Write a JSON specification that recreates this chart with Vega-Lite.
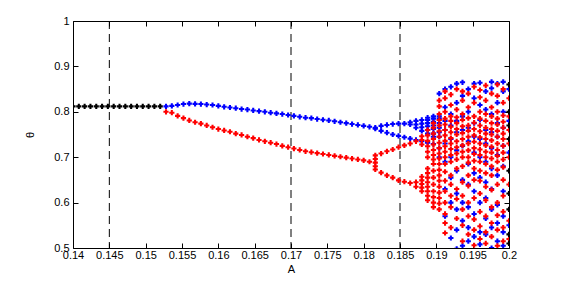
{
"$schema": "https://vega.github.io/schema/vega-lite/v6.json",
"width": 436, "height": 227,
"autosize": "none",
"padding": {"left": 73, "top": 21, "right": 52, "bottom": 38},
"background": "white",
"config": {
  "view": {"stroke": "#000", "strokeWidth": 1},
  "font": "Liberation Sans",
  "axis": {"grid": false, "domain": false, "tickColor": "#000", "labelColor": "#000", "titleColor": "#000", "labelFontSize": 11, "titleFontSize": 11, "titleFontWeight": "normal", "tickSize": -5, "labelFlush": false, "labelOverlap": false}
},
"datasets": {
"pts": [
{"A":0.14,"t":0.812,"s":"k"},{"A":0.1408,"t":0.812,"s":"k"},{"A":0.1416,"t":0.812,"s":"k"},{"A":0.1424,"t":0.812,"s":"k"},
{"A":0.1432,"t":0.812,"s":"k"},{"A":0.144,"t":0.812,"s":"k"},{"A":0.1448,"t":0.812,"s":"k"},{"A":0.1456,"t":0.812,"s":"k"},
{"A":0.1464,"t":0.812,"s":"k"},{"A":0.1472,"t":0.812,"s":"k"},{"A":0.148,"t":0.812,"s":"k"},{"A":0.1488,"t":0.812,"s":"k"},
{"A":0.1496,"t":0.812,"s":"k"},{"A":0.1504,"t":0.812,"s":"k"},{"A":0.1512,"t":0.812,"s":"k"},{"A":0.152,"t":0.812,"s":"k"},
{"A":0.1528,"t":0.812,"s":"b"},{"A":0.1528,"t":0.800,"s":"r"},
{"A":0.1536,"t":0.813,"s":"b"},{"A":0.1536,"t":0.798,"s":"r"},
{"A":0.1544,"t":0.815,"s":"b"},{"A":0.1544,"t":0.791,"s":"r"},
{"A":0.1552,"t":0.817,"s":"b"},{"A":0.1552,"t":0.786,"s":"r"},
{"A":0.156,"t":0.818,"s":"b"},{"A":0.156,"t":0.781,"s":"r"},
{"A":0.1568,"t":0.8175,"s":"b"},{"A":0.1568,"t":0.777,"s":"r"},
{"A":0.1576,"t":0.817,"s":"b"},{"A":0.1576,"t":0.774,"s":"r"},
{"A":0.1584,"t":0.816,"s":"b"},{"A":0.1584,"t":0.770,"s":"r"},
{"A":0.1592,"t":0.815,"s":"b"},{"A":0.1592,"t":0.766,"s":"r"},
{"A":0.16,"t":0.813,"s":"b"},{"A":0.16,"t":0.762,"s":"r"},
{"A":0.1608,"t":0.811,"s":"b"},{"A":0.1608,"t":0.759,"s":"r"},
{"A":0.1616,"t":0.8095,"s":"b"},{"A":0.1616,"t":0.756,"s":"r"},
{"A":0.1624,"t":0.808,"s":"b"},{"A":0.1624,"t":0.752,"s":"r"},
{"A":0.1632,"t":0.806,"s":"b"},{"A":0.1632,"t":0.749,"s":"r"},
{"A":0.164,"t":0.805,"s":"b"},{"A":0.164,"t":0.745,"s":"r"},
{"A":0.1648,"t":0.803,"s":"b"},{"A":0.1648,"t":0.742,"s":"r"},
{"A":0.1656,"t":0.8015,"s":"b"},{"A":0.1656,"t":0.738,"s":"r"},
{"A":0.1664,"t":0.800,"s":"b"},{"A":0.1664,"t":0.735,"s":"r"},
{"A":0.1672,"t":0.798,"s":"b"},{"A":0.1672,"t":0.732,"s":"r"},
{"A":0.168,"t":0.7965,"s":"b"},{"A":0.168,"t":0.729,"s":"r"},
{"A":0.1688,"t":0.795,"s":"b"},{"A":0.1688,"t":0.725,"s":"r"},
{"A":0.1696,"t":0.793,"s":"b"},{"A":0.1696,"t":0.722,"s":"r"},
{"A":0.1704,"t":0.791,"s":"b"},{"A":0.1704,"t":0.719,"s":"r"},
{"A":0.1712,"t":0.789,"s":"b"},{"A":0.1712,"t":0.716,"s":"r"},
{"A":0.172,"t":0.787,"s":"b"},{"A":0.172,"t":0.713,"s":"r"},
{"A":0.1728,"t":0.786,"s":"b"},{"A":0.1728,"t":0.711,"s":"r"},
{"A":0.1736,"t":0.784,"s":"b"},{"A":0.1736,"t":0.709,"s":"r"},
{"A":0.1744,"t":0.7825,"s":"b"},{"A":0.1744,"t":0.707,"s":"r"},
{"A":0.1752,"t":0.781,"s":"b"},{"A":0.1752,"t":0.705,"s":"r"},
{"A":0.176,"t":0.779,"s":"b"},{"A":0.176,"t":0.703,"s":"r"},
{"A":0.1768,"t":0.777,"s":"b"},{"A":0.1768,"t":0.701,"s":"r"},
{"A":0.1776,"t":0.775,"s":"b"},{"A":0.1776,"t":0.699,"s":"r"},
{"A":0.1784,"t":0.773,"s":"b"},{"A":0.1784,"t":0.697,"s":"r"},
{"A":0.1792,"t":0.771,"s":"b"},{"A":0.1792,"t":0.695,"s":"r"},
{"A":0.18,"t":0.769,"s":"b"},{"A":0.18,"t":0.693,"s":"r"},
{"A":0.1808,"t":0.767,"s":"b"},{"A":0.1808,"t":0.690,"s":"r"},
{"A":0.1816,"t":0.765,"s":"b"},{"A":0.1816,"t":0.763,"s":"b"},
{"A":0.1816,"t":0.673,"s":"r"},{"A":0.1816,"t":0.680,"s":"r"},{"A":0.1816,"t":0.688,"s":"r"},{"A":0.1816,"t":0.696,"s":"r"},{"A":0.1816,"t":0.704,"s":"r"},
{"A":0.1824,"t":0.769,"s":"b"},{"A":0.1824,"t":0.758,"s":"b"},{"A":0.1824,"t":0.708,"s":"r"},{"A":0.1824,"t":0.666,"s":"r"},
{"A":0.1832,"t":0.771,"s":"b"},{"A":0.1832,"t":0.754,"s":"b"},{"A":0.1832,"t":0.713,"s":"r"},{"A":0.1832,"t":0.660,"s":"r"},
{"A":0.184,"t":0.773,"s":"b"},{"A":0.184,"t":0.750,"s":"b"},{"A":0.184,"t":0.717,"s":"r"},{"A":0.184,"t":0.655,"s":"r"},
{"A":0.1848,"t":0.774,"s":"b"},{"A":0.1848,"t":0.747,"s":"b"},{"A":0.1848,"t":0.722,"s":"r"},{"A":0.1848,"t":0.649,"s":"r"},
{"A":0.1856,"t":0.774,"s":"b"},{"A":0.1856,"t":0.744,"s":"b"},{"A":0.1856,"t":0.726,"s":"r"},{"A":0.1856,"t":0.646,"s":"r"},
{"A":0.1864,"t":0.772,"s":"b"},{"A":0.1864,"t":0.777,"s":"b"},{"A":0.1864,"t":0.741,"s":"b"},{"A":0.1864,"t":0.730,"s":"r"},{"A":0.1864,"t":0.643,"s":"r"},
{"A":0.1872,"t":0.765,"s":"b"},{"A":0.1872,"t":0.772,"s":"b"},{"A":0.1872,"t":0.780,"s":"b"},{"A":0.1872,"t":0.738,"s":"b"},
{"A":0.1872,"t":0.735,"s":"r"},{"A":0.1872,"t":0.635,"s":"r"},{"A":0.1872,"t":0.645,"s":"r"},
{"A":0.188,"t":0.758,"s":"b"},{"A":0.188,"t":0.766,"s":"b"},{"A":0.188,"t":0.774,"s":"b"},{"A":0.188,"t":0.782,"s":"b"},{"A":0.188,"t":0.735,"s":"b"},
{"A":0.188,"t":0.728,"s":"r"},{"A":0.188,"t":0.738,"s":"r"},{"A":0.188,"t":0.746,"s":"r"},
{"A":0.188,"t":0.625,"s":"r"},{"A":0.188,"t":0.633,"s":"r"},{"A":0.188,"t":0.641,"s":"r"},{"A":0.188,"t":0.649,"s":"r"},{"A":0.188,"t":0.657,"s":"r"},
{"A":0.1888,"t":0.752,"s":"b"},{"A":0.1888,"t":0.760,"s":"b"},{"A":0.1888,"t":0.768,"s":"b"},{"A":0.1888,"t":0.775,"s":"b"},{"A":0.1888,"t":0.782,"s":"b"},{"A":0.1888,"t":0.787,"s":"b"},{"A":0.1888,"t":0.732,"s":"b"},
{"A":0.1888,"t":0.700,"s":"r"},{"A":0.1888,"t":0.712,"s":"r"},{"A":0.1888,"t":0.724,"s":"r"},{"A":0.1888,"t":0.736,"s":"r"},{"A":0.1888,"t":0.748,"s":"r"},{"A":0.1888,"t":0.760,"s":"r"},
{"A":0.1888,"t":0.605,"s":"r"},{"A":0.1888,"t":0.615,"s":"r"},{"A":0.1888,"t":0.625,"s":"r"},{"A":0.1888,"t":0.635,"s":"r"},{"A":0.1888,"t":0.645,"s":"r"},{"A":0.1888,"t":0.655,"s":"r"},{"A":0.1888,"t":0.665,"s":"r"},{"A":0.1888,"t":0.675,"s":"r"},
{"A":0.1896,"t":0.745,"s":"b"},{"A":0.1896,"t":0.752,"s":"b"},{"A":0.1896,"t":0.762,"s":"b"},{"A":0.1896,"t":0.770,"s":"b"},{"A":0.1896,"t":0.778,"s":"b"},{"A":0.1896,"t":0.785,"s":"b"},{"A":0.1896,"t":0.790,"s":"b"},{"A":0.1896,"t":0.729,"s":"b"},
{"A":0.1896,"t":0.590,"s":"r"},{"A":0.1896,"t":0.600,"s":"r"},{"A":0.1896,"t":0.612,"s":"r"},{"A":0.1896,"t":0.625,"s":"r"},{"A":0.1896,"t":0.640,"s":"r"},{"A":0.1896,"t":0.655,"s":"r"},{"A":0.1896,"t":0.670,"s":"r"},{"A":0.1896,"t":0.685,"s":"r"},{"A":0.1896,"t":0.695,"s":"r"},
{"A":0.1896,"t":0.705,"s":"r"},{"A":0.1896,"t":0.716,"s":"r"},{"A":0.1896,"t":0.728,"s":"r"},{"A":0.1896,"t":0.740,"s":"r"},{"A":0.1896,"t":0.752,"s":"r"},{"A":0.1896,"t":0.765,"s":"r"},{"A":0.1896,"t":0.775,"s":"r"},
{"A":0.1904,"t":0.720,"s":"b"},{"A":0.1904,"t":0.745,"s":"b"},{"A":0.1904,"t":0.755,"s":"b"},{"A":0.1904,"t":0.765,"s":"b"},{"A":0.1904,"t":0.775,"s":"b"},{"A":0.1904,"t":0.785,"s":"b"},{"A":0.1904,"t":0.790,"s":"b"},{"A":0.1904,"t":0.700,"s":"b"},{"A":0.1904,"t":0.840,"s":"b"},
{"A":0.1904,"t":0.585,"s":"r"},{"A":0.1904,"t":0.598,"s":"r"},{"A":0.1904,"t":0.610,"s":"r"},{"A":0.1904,"t":0.622,"s":"r"},{"A":0.1904,"t":0.635,"s":"r"},{"A":0.1904,"t":0.648,"s":"r"},{"A":0.1904,"t":0.660,"s":"r"},{"A":0.1904,"t":0.672,"s":"r"},{"A":0.1904,"t":0.685,"s":"r"},{"A":0.1904,"t":0.697,"s":"r"},
{"A":0.1904,"t":0.708,"s":"r"},{"A":0.1904,"t":0.720,"s":"r"},{"A":0.1904,"t":0.732,"s":"r"},{"A":0.1904,"t":0.745,"s":"r"},{"A":0.1904,"t":0.757,"s":"r"},{"A":0.1904,"t":0.770,"s":"r"},{"A":0.1904,"t":0.782,"s":"r"},{"A":0.1904,"t":0.795,"s":"r"},{"A":0.1904,"t":0.812,"s":"r"},{"A":0.1904,"t":0.825,"s":"r"},
{"A":0.1912,"t":0.57,"s":"b"},{"A":0.1912,"t":0.63,"s":"b"},{"A":0.1912,"t":0.69,"s":"b"},{"A":0.1912,"t":0.73,"s":"b"},{"A":0.1912,"t":0.76,"s":"b"},{"A":0.1912,"t":0.78,"s":"b"},{"A":0.1912,"t":0.81,"s":"b"},{"A":0.1912,"t":0.85,"s":"b"},
{"A":0.1912,"t":0.533,"s":"r"},{"A":0.1912,"t":0.555,"s":"r"},{"A":0.1912,"t":0.575,"s":"r"},{"A":0.1912,"t":0.60,"s":"r"},{"A":0.1912,"t":0.625,"s":"r"},{"A":0.1912,"t":0.648,"s":"r"},{"A":0.1912,"t":0.668,"s":"r"},{"A":0.1912,"t":0.685,"s":"r"},{"A":0.1912,"t":0.70,"s":"r"},{"A":0.1912,"t":0.712,"s":"r"},
{"A":0.1912,"t":0.724,"s":"r"},{"A":0.1912,"t":0.736,"s":"r"},{"A":0.1912,"t":0.748,"s":"r"},{"A":0.1912,"t":0.76,"s":"r"},{"A":0.1912,"t":0.772,"s":"r"},{"A":0.1912,"t":0.785,"s":"r"},{"A":0.1912,"t":0.80,"s":"r"},{"A":0.1912,"t":0.83,"s":"r"},{"A":0.1912,"t":0.845,"s":"r"},
{"A":0.192,"t":0.522,"s":"b"},{"A":0.192,"t":0.60,"s":"b"},{"A":0.192,"t":0.655,"s":"b"},{"A":0.192,"t":0.70,"s":"b"},{"A":0.192,"t":0.74,"s":"b"},{"A":0.192,"t":0.77,"s":"b"},{"A":0.192,"t":0.795,"s":"b"},{"A":0.192,"t":0.855,"s":"b"},
{"A":0.192,"t":0.545,"s":"r"},{"A":0.192,"t":0.59,"s":"r"},{"A":0.192,"t":0.615,"s":"r"},{"A":0.192,"t":0.64,"s":"r"},{"A":0.192,"t":0.66,"s":"r"},{"A":0.192,"t":0.69,"s":"r"},{"A":0.192,"t":0.705,"s":"r"},{"A":0.192,"t":0.718,"s":"r"},
{"A":0.192,"t":0.73,"s":"r"},{"A":0.192,"t":0.742,"s":"r"},{"A":0.192,"t":0.755,"s":"r"},{"A":0.192,"t":0.767,"s":"r"},{"A":0.192,"t":0.78,"s":"r"},{"A":0.192,"t":0.79,"s":"r"},{"A":0.192,"t":0.815,"s":"r"},{"A":0.192,"t":0.838,"s":"r"},
{"A":0.1928,"t":0.498,"s":"b"},{"A":0.1928,"t":0.54,"s":"b"},{"A":0.1928,"t":0.585,"s":"b"},{"A":0.1928,"t":0.62,"s":"b"},{"A":0.1928,"t":0.67,"s":"b"},{"A":0.1928,"t":0.715,"s":"b"},{"A":0.1928,"t":0.755,"s":"b"},{"A":0.1928,"t":0.78,"s":"b"},{"A":0.1928,"t":0.82,"s":"b"},{"A":0.1928,"t":0.862,"s":"b"},
{"A":0.1928,"t":0.565,"s":"r"},{"A":0.1928,"t":0.608,"s":"r"},{"A":0.1928,"t":0.63,"s":"r"},{"A":0.1928,"t":0.675,"s":"r"},{"A":0.1928,"t":0.695,"s":"r"},{"A":0.1928,"t":0.708,"s":"r"},{"A":0.1928,"t":0.722,"s":"r"},
{"A":0.1928,"t":0.735,"s":"r"},{"A":0.1928,"t":0.75,"s":"r"},{"A":0.1928,"t":0.762,"s":"r"},{"A":0.1928,"t":0.775,"s":"r"},{"A":0.1928,"t":0.788,"s":"r"},{"A":0.1928,"t":0.805,"s":"r"},{"A":0.1928,"t":0.85,"s":"r"},
{"A":0.1936,"t":0.505,"s":"b"},{"A":0.1936,"t":0.56,"s":"b"},{"A":0.1936,"t":0.60,"s":"b"},{"A":0.1936,"t":0.65,"s":"b"},{"A":0.1936,"t":0.725,"s":"b"},{"A":0.1936,"t":0.76,"s":"b"},{"A":0.1936,"t":0.79,"s":"b"},{"A":0.1936,"t":0.835,"s":"b"},{"A":0.1936,"t":0.865,"s":"b"},
{"A":0.1936,"t":0.515,"s":"r"},{"A":0.1936,"t":0.55,"s":"r"},{"A":0.1936,"t":0.585,"s":"r"},{"A":0.1936,"t":0.615,"s":"r"},{"A":0.1936,"t":0.645,"s":"r"},{"A":0.1936,"t":0.68,"s":"r"},{"A":0.1936,"t":0.70,"s":"r"},{"A":0.1936,"t":0.712,"s":"r"},
{"A":0.1936,"t":0.726,"s":"r"},{"A":0.1936,"t":0.74,"s":"r"},{"A":0.1936,"t":0.753,"s":"r"},{"A":0.1936,"t":0.768,"s":"r"},{"A":0.1936,"t":0.782,"s":"r"},{"A":0.1936,"t":0.795,"s":"r"},{"A":0.1936,"t":0.825,"s":"r"},{"A":0.1936,"t":0.845,"s":"r"},
{"A":0.1944,"t":0.515,"s":"b"},{"A":0.1944,"t":0.545,"s":"b"},{"A":0.1944,"t":0.59,"s":"b"},{"A":0.1944,"t":0.64,"s":"b"},{"A":0.1944,"t":0.685,"s":"b"},{"A":0.1944,"t":0.735,"s":"b"},{"A":0.1944,"t":0.765,"s":"b"},{"A":0.1944,"t":0.80,"s":"b"},{"A":0.1944,"t":0.85,"s":"b"},
{"A":0.1944,"t":0.53,"s":"r"},{"A":0.1944,"t":0.57,"s":"r"},{"A":0.1944,"t":0.60,"s":"r"},{"A":0.1944,"t":0.637,"s":"r"},{"A":0.1944,"t":0.66,"s":"r"},{"A":0.1944,"t":0.688,"s":"r"},{"A":0.1944,"t":0.70,"s":"r"},{"A":0.1944,"t":0.715,"s":"r"},
{"A":0.1944,"t":0.73,"s":"r"},{"A":0.1944,"t":0.745,"s":"r"},{"A":0.1944,"t":0.758,"s":"r"},{"A":0.1944,"t":0.77,"s":"r"},{"A":0.1944,"t":0.786,"s":"r"},{"A":0.1944,"t":0.81,"s":"r"},{"A":0.1944,"t":0.84,"s":"r"},
{"A":0.1952,"t":0.525,"s":"b"},{"A":0.1952,"t":0.575,"s":"b"},{"A":0.1952,"t":0.625,"s":"b"},{"A":0.1952,"t":0.665,"s":"b"},{"A":0.1952,"t":0.71,"s":"b"},{"A":0.1952,"t":0.745,"s":"b"},{"A":0.1952,"t":0.775,"s":"b"},{"A":0.1952,"t":0.83,"s":"b"},{"A":0.1952,"t":0.862,"s":"b"},
{"A":0.1952,"t":0.506,"s":"r"},{"A":0.1952,"t":0.54,"s":"r"},{"A":0.1952,"t":0.563,"s":"r"},{"A":0.1952,"t":0.61,"s":"r"},{"A":0.1952,"t":0.65,"s":"r"},{"A":0.1952,"t":0.675,"s":"r"},{"A":0.1952,"t":0.692,"s":"r"},{"A":0.1952,"t":0.707,"s":"r"},
{"A":0.1952,"t":0.72,"s":"r"},{"A":0.1952,"t":0.734,"s":"r"},{"A":0.1952,"t":0.748,"s":"r"},{"A":0.1952,"t":0.762,"s":"r"},{"A":0.1952,"t":0.776,"s":"r"},{"A":0.1952,"t":0.79,"s":"r"},{"A":0.1952,"t":0.82,"s":"r"},{"A":0.1952,"t":0.855,"s":"r"},
{"A":0.196,"t":0.508,"s":"b"},{"A":0.196,"t":0.535,"s":"b"},{"A":0.196,"t":0.60,"s":"b"},{"A":0.196,"t":0.655,"s":"b"},{"A":0.196,"t":0.70,"s":"b"},{"A":0.196,"t":0.74,"s":"b"},{"A":0.196,"t":0.782,"s":"b"},{"A":0.196,"t":0.815,"s":"b"},{"A":0.196,"t":0.864,"s":"b"},
{"A":0.196,"t":0.52,"s":"r"},{"A":0.196,"t":0.548,"s":"r"},{"A":0.196,"t":0.58,"s":"r"},{"A":0.196,"t":0.62,"s":"r"},{"A":0.196,"t":0.648,"s":"r"},{"A":0.196,"t":0.67,"s":"r"},{"A":0.196,"t":0.69,"s":"r"},{"A":0.196,"t":0.705,"s":"r"},{"A":0.196,"t":0.717,"s":"r"},
{"A":0.196,"t":0.73,"s":"r"},{"A":0.196,"t":0.744,"s":"r"},{"A":0.196,"t":0.757,"s":"r"},{"A":0.196,"t":0.77,"s":"r"},{"A":0.196,"t":0.785,"s":"r"},{"A":0.196,"t":0.80,"s":"r"},{"A":0.196,"t":0.832,"s":"r"},{"A":0.196,"t":0.848,"s":"r"},
{"A":0.1968,"t":0.53,"s":"b"},{"A":0.1968,"t":0.565,"s":"b"},{"A":0.1968,"t":0.61,"s":"b"},{"A":0.1968,"t":0.645,"s":"b"},{"A":0.1968,"t":0.69,"s":"b"},{"A":0.1968,"t":0.73,"s":"b"},{"A":0.1968,"t":0.76,"s":"b"},{"A":0.1968,"t":0.805,"s":"b"},{"A":0.1968,"t":0.845,"s":"b"},
{"A":0.1968,"t":0.51,"s":"r"},{"A":0.1968,"t":0.535,"s":"r"},{"A":0.1968,"t":0.57,"s":"r"},{"A":0.1968,"t":0.605,"s":"r"},{"A":0.1968,"t":0.635,"s":"r"},{"A":0.1968,"t":0.665,"s":"r"},{"A":0.1968,"t":0.685,"s":"r"},{"A":0.1968,"t":0.70,"s":"r"},{"A":0.1968,"t":0.712,"s":"r"},
{"A":0.1968,"t":0.726,"s":"r"},{"A":0.1968,"t":0.74,"s":"r"},{"A":0.1968,"t":0.752,"s":"r"},{"A":0.1968,"t":0.765,"s":"r"},{"A":0.1968,"t":0.78,"s":"r"},{"A":0.1968,"t":0.795,"s":"r"},{"A":0.1968,"t":0.825,"s":"r"},{"A":0.1968,"t":0.858,"s":"r"},
{"A":0.1976,"t":0.50,"s":"b"},{"A":0.1976,"t":0.545,"s":"b"},{"A":0.1976,"t":0.585,"s":"b"},{"A":0.1976,"t":0.63,"s":"b"},{"A":0.1976,"t":0.675,"s":"b"},{"A":0.1976,"t":0.72,"s":"b"},{"A":0.1976,"t":0.755,"s":"b"},{"A":0.1976,"t":0.795,"s":"b"},{"A":0.1976,"t":0.852,"s":"b"},{"A":0.1976,"t":0.866,"s":"b"},
{"A":0.1976,"t":0.525,"s":"r"},{"A":0.1976,"t":0.555,"s":"r"},{"A":0.1976,"t":0.59,"s":"r"},{"A":0.1976,"t":0.628,"s":"r"},{"A":0.1976,"t":0.66,"s":"r"},{"A":0.1976,"t":0.68,"s":"r"},{"A":0.1976,"t":0.697,"s":"r"},{"A":0.1976,"t":0.71,"s":"r"},
{"A":0.1976,"t":0.723,"s":"r"},{"A":0.1976,"t":0.737,"s":"r"},{"A":0.1976,"t":0.75,"s":"r"},{"A":0.1976,"t":0.762,"s":"r"},{"A":0.1976,"t":0.775,"s":"r"},{"A":0.1976,"t":0.79,"s":"r"},{"A":0.1976,"t":0.81,"s":"r"},{"A":0.1976,"t":0.84,"s":"r"},
{"A":0.1984,"t":0.515,"s":"b"},{"A":0.1984,"t":0.555,"s":"b"},{"A":0.1984,"t":0.595,"s":"b"},{"A":0.1984,"t":0.66,"s":"b"},{"A":0.1984,"t":0.705,"s":"b"},{"A":0.1984,"t":0.745,"s":"b"},{"A":0.1984,"t":0.775,"s":"b"},{"A":0.1984,"t":0.82,"s":"b"},{"A":0.1984,"t":0.862,"s":"b"},
{"A":0.1984,"t":0.505,"s":"r"},{"A":0.1984,"t":0.54,"s":"r"},{"A":0.1984,"t":0.572,"s":"r"},{"A":0.1984,"t":0.60,"s":"r"},{"A":0.1984,"t":0.64,"s":"r"},{"A":0.1984,"t":0.672,"s":"r"},{"A":0.1984,"t":0.69,"s":"r"},{"A":0.1984,"t":0.703,"s":"r"},{"A":0.1984,"t":0.716,"s":"r"},
{"A":0.1984,"t":0.73,"s":"r"},{"A":0.1984,"t":0.745,"s":"r"},{"A":0.1984,"t":0.758,"s":"r"},{"A":0.1984,"t":0.772,"s":"r"},{"A":0.1984,"t":0.785,"s":"r"},{"A":0.1984,"t":0.80,"s":"r"},{"A":0.1984,"t":0.835,"s":"r"},{"A":0.1984,"t":0.86,"s":"r"},
{"A":0.1992,"t":0.505,"s":"b"},{"A":0.1992,"t":0.535,"s":"b"},{"A":0.1992,"t":0.57,"s":"b"},{"A":0.1992,"t":0.625,"s":"b"},{"A":0.1992,"t":0.68,"s":"b"},{"A":0.1992,"t":0.725,"s":"b"},{"A":0.1992,"t":0.765,"s":"b"},{"A":0.1992,"t":0.80,"s":"b"},{"A":0.1992,"t":0.845,"s":"b"},{"A":0.1992,"t":0.866,"s":"b"},
{"A":0.1992,"t":0.515,"s":"r"},{"A":0.1992,"t":0.545,"s":"r"},{"A":0.1992,"t":0.58,"s":"r"},{"A":0.1992,"t":0.615,"s":"r"},{"A":0.1992,"t":0.65,"s":"r"},{"A":0.1992,"t":0.678,"s":"r"},{"A":0.1992,"t":0.695,"s":"r"},{"A":0.1992,"t":0.71,"s":"r"},
{"A":0.1992,"t":0.725,"s":"r"},{"A":0.1992,"t":0.74,"s":"r"},{"A":0.1992,"t":0.752,"s":"r"},{"A":0.1992,"t":0.765,"s":"r"},{"A":0.1992,"t":0.778,"s":"r"},{"A":0.1992,"t":0.792,"s":"r"},{"A":0.1992,"t":0.82,"s":"r"},{"A":0.1992,"t":0.85,"s":"r"},
{"A":0.2,"t":0.55,"s":"b"},{"A":0.2,"t":0.71,"s":"b"},{"A":0.2,"t":0.78,"s":"b"},{"A":0.2,"t":0.85,"s":"b"},
{"A":0.2,"t":0.52,"s":"r"},{"A":0.2,"t":0.56,"s":"r"},{"A":0.2,"t":0.64,"s":"r"},{"A":0.2,"t":0.70,"s":"r"},{"A":0.2,"t":0.73,"s":"r"},{"A":0.2,"t":0.76,"s":"r"},{"A":0.2,"t":0.79,"s":"r"},{"A":0.2,"t":0.83,"s":"r"},
{"A":0.2,"t":0.51,"s":"k"},{"A":0.2,"t":0.53,"s":"k"},{"A":0.2,"t":0.585,"s":"k"},{"A":0.2,"t":0.62,"s":"k"},{"A":0.2,"t":0.67,"s":"k"},{"A":0.2,"t":0.74,"s":"k"},{"A":0.2,"t":0.77,"s":"k"},{"A":0.2,"t":0.80,"s":"k"},{"A":0.2,"t":0.86,"s":"k"}
]
},
"layer": [
{
  "data": {"values": [{"A": 0.145}, {"A": 0.17}, {"A": 0.185}]},
  "mark": {"type": "rule", "strokeDash": [8, 5], "color": "#000", "strokeWidth": 1},
  "encoding": {
    "x": {"field": "A", "type": "quantitative", "scale": {"domain": [0.14, 0.2]},
      "axis": {"orient": "top", "labels": false, "title": null, "values": [0.14,0.145,0.15,0.155,0.16,0.165,0.17,0.175,0.18,0.185,0.19,0.195,0.2]}}
  }
},
{
  "data": {"name": "pts"},
  "mark": {"type": "point", "shape": "cross", "filled": true, "size": 27, "opacity": 1, "strokeWidth": 0, "clip": true},
  "encoding": {
    "x": {"field": "A", "type": "quantitative", "scale": {"domain": [0.14, 0.2]},
      "axis": {"orient": "bottom", "title": "A", "format": ".3~f", "labelPadding": 6, "titlePadding": 3, "values": [0.14,0.145,0.15,0.155,0.16,0.165,0.17,0.175,0.18,0.185,0.19,0.195,0.2]}},
    "y": {"field": "t", "type": "quantitative", "scale": {"domain": [0.5, 1]},
      "axis": {"orient": "left", "title": "θ", "format": ".1~f", "labelPadding": 9, "titlePadding": 18, "values": [0.5,0.6,0.7,0.8,0.9,1]}},
    "color": {"field": "s", "type": "nominal", "scale": {"domain": ["k", "b", "r"], "range": ["#000000", "#0000ff", "#ff0000"]}, "legend": null}
  }
},
{
  "data": {"values": [{"t": 0.5}]},
  "mark": {"type": "point", "opacity": 0},
  "encoding": {
    "y": {"field": "t", "type": "quantitative", "scale": {"domain": [0.5, 1]},
      "axis": {"orient": "right", "labels": false, "title": null, "values": [0.5,0.6,0.7,0.8,0.9,1]}}
  }
}
]
}
